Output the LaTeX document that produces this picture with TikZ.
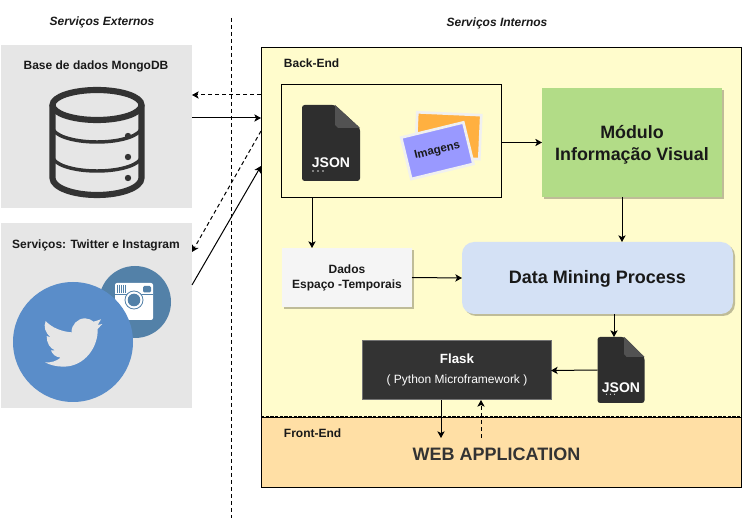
\documentclass[tikz,border=0pt]{standalone}
\usepackage{fontspec}
\setmainfont{Liberation Sans}
\usetikzlibrary{arrows.meta,shadows}
\definecolor{greybox}{HTML}{E6E6E6}
\definecolor{darkicon}{HTML}{333333}
\definecolor{birdblue}{HTML}{5A8DC9}
\definecolor{instablue}{HTML}{5381A8}
\newcommand{\jsonfile}[5]{%
	\node[minimum width=#4*.75pt,minimum height=#5*.75pt,inner sep=0,outer sep=0] (#1) at (#2,#3) {};
	\begin{scope}[shift={(#1.north west)},xscale=#4/58,yscale=#5/76]
		\fill[black!82,rounded corners=2pt] (33,0) -- (0,0) -- (0,76) -- (58,76) -- (58,23) -- cycle;
		\fill[black!68] (33,0) -- (58,23) -- (36,23) -- (33,20) -- cycle;
		\node[text=white,font=\fontsize{10.5}{12}\selectfont\bfseries] at (29,58) {JSON};
		\foreach \i in {11,16,21}
			\fill[white!85!black] (\i,66) circle (.8);
	\end{scope}
}
\begin{document}
\begin{tikzpicture}[x=.75pt,y=-.75pt,line width=.75pt,
	every node/.style={align=center,font=\fontsize{9}{11.25}\selectfont\bfseries,text=black!90},
	box/.style={inner sep=0,outer sep=0},
	shadowed/.style={box,drop shadow={shadow xshift=1.5pt,shadow yshift=-1.5pt,fill=black,opacity=.25}},
	title/.style={font=\fontsize{9}{11}\selectfont\bfseries\itshape},
	photo/.style={box,draw=black!6,line width=2pt,minimum width=48pt,minimum height=33pt},
	arr/.style={-{Stealth[length=5pt,width=5.5pt,inset=1.3pt]}},
	dasharr/.style={arr,dash pattern=on 3pt off 2.25pt}]
\useasboundingbox (0,0) rectangle (744,524);
\node[title] (externos) at (102,22) {Serviços Externos};
\node[title] (internos) at (497,23) {Serviços Internos};
\draw[dash pattern=on 3pt off 2.25pt] (231,18) -- (231,518);
% boxes on the left
\node[box,fill=greybox,minimum width=143.25pt,minimum height=122.25pt] (mongo) at (96.5,126.5) {};
\node[box,fill=greybox,minimum width=143.25pt,minimum height=138.75pt] (social) at (96.5,315.5) {};
\node (mongotxt) at (96,66) {Base de dados MongoDB};
\node (socialtxt) at (96,245) {Serviços: Twitter e Instagram};
% database icon
\begin{scope}[darkicon]
	\draw[line width=4.6pt] (97,105) ellipse[x radius=44.5,y radius=15];
	\draw[line width=4.6pt] (52.5,105) -- (52.5,178) arc[start angle=180,end angle=0,x radius=44.5,y radius=17] -- (141.5,105);
	\draw[line width=2.6pt] (52.5,127) arc[start angle=180,end angle=0,x radius=44.5,y radius=15];
	\draw[line width=2.6pt] (52.5,156) arc[start angle=180,end angle=0,x radius=44.5,y radius=15];
	\foreach \y in {136,157,178}
		\fill (128,\y) circle (3.2);
\end{scope}
% instagram and twitter
\fill[instablue] (135,302) circle (36);
\fill[white,rounded corners=1.5pt] (115,283) rectangle (153,320);
\foreach \x in {117,119,121,123,125}
	\draw[instablue,line width=.6pt] (\x,285) -- (\x,293);
\fill[instablue,rounded corners=1pt] (143,286) rectangle (151,292.5);
\draw[instablue,line width=.4pt] (115,294) -- (153,294);
\draw[instablue,fill=white,line width=.6pt] (134,300) circle (9);
\fill[instablue] (134,300) circle (6.3);
\fill[birdblue] (73,342) circle (60);
\begin{scope}[shift={(35,275)},x=.25pt,y=-.25pt]
	\fill[greybox] (32,138) .. controls (50,158) and (80,170) .. (110,172)
		.. controls (108,150) and (128,130) .. (150,130)
		.. controls (160,130) and (170,135) .. (176,140)
		-- (198,133) -- (188,150) -- (202,147) -- (188,162)
		.. controls (190,215) and (150,275) .. (85,275)
		.. controls (65,275) and (45,270) .. (30,262)
		.. controls (48,264) and (65,258) .. (77,248)
		.. controls (62,246) and (52,238) .. (48,226)
		-- (60,226)
		.. controls (45,220) and (35,205) .. (35,183)
		-- (47,187)
		.. controls (30,172) and (25,155) .. (32,138) -- cycle;
\end{scope}
% back-end and front-end
\node[box,draw,fill=yellow!20!white,minimum width=360pt,minimum height=277.5pt] (backend) at (501,233) {};
\node[box,draw,fill={rgb,255:red,255;green,223;blue,165},minimum width=360pt,minimum height=52.5pt] (frontend) at (501,453) {};
\draw[dash pattern=on 2.5pt off 1pt,line width=.9pt] (backend.south west) ++(0,-1) -- ++(480,0);
\node[anchor=west] (backtxt) at (279,63) {Back-End};
\node[anchor=west] (fronttxt) at (279,433) {Front-End};
\node[box,draw,minimum width=165pt,minimum height=84.75pt] (dados) at (391.5,141.5) {};
\jsonfile{jsona}{331}{143}{58}{76}
\node[photo,fill={rgb,255:red,255;green,176;blue,64},rotate=-2.6] (foto) at (448.3,135.7) {};
\node[photo,fill={rgb,255:red,153;green,153;blue,255},rotate=13.7,minimum height=32pt,font=\fontsize{8.6}{11}\selectfont\bfseries] (imagens) at (437.3,150.7) {Imagens};
\node[shadowed,fill={rgb,255:red,178;green,220;blue,135},minimum width=135pt,minimum height=81.75pt] (modulo) at (632,142.5) {};
\node[font=\fontsize{13.4}{16.5}\selectfont\bfseries] (modulotxt) at (632,144.5) {Módulo\\Informação Visual};
\node[shadowed,fill=black!4,minimum width=97.5pt,minimum height=44.25pt] (espaco) at (347,277.5) {Dados\\Espaço -Temporais};
\node[shadowed,rounded corners=9pt,fill={rgb,255:red,212;green,225;blue,245},minimum width=203.25pt,minimum height=54pt] (mining) at (597.5,278) {};
\node[font=\fontsize{13.5}{16}\selectfont\bfseries] (miningtxt) at (597.5,279) {Data Mining Process};
\node[box,draw=black!55,fill=darkicon,minimum width=141.75pt,minimum height=44.25pt] (flask) at (456.5,370.5) {};
\node[text=white,font=\fontsize{10}{12}\selectfont\bfseries] (flasktxt) at (457,359) {Flask};
\node[text=white,font=\fontsize{9}{11}\selectfont] (pythontxt) at (457,380) {( Python Microframework )};
\jsonfile{jsonb}{621}{370}{47}{66}
\node[box,text=darkicon,font=\fontsize{13.5}{16}\selectfont\bfseries,minimum height=24pt] (web) at (496.5,454) {WEB APPLICATION};
% connectors
\path (0,95) coordinate (ya) (0,118) coordinate (yb) (0,131) coordinate (yc) (0,252) coordinate (yd)
	(0,285) coordinate (ye) (0,166) coordinate (yf)
	(312,0) coordinate (xa) (622,0) coordinate (xb) (614,0) coordinate (xc) (441,0) coordinate (xd) (481,0) coordinate (xe);
\draw[dasharr] (backend.west |- ya) -- (mongo.east |- ya);
\draw[arr] (mongo.east |- yb) -- (backend.west |- yb);
\draw[dasharr] (backend.west |- yc) -- (social.east |- yd);
\draw[arr] (social.east |- ye) -- (backend.west |- yf);
\draw[arr] (dados.east |- modulo.west) -- (modulo.west);
\draw[arr] (modulo.south -| xb) -- (mining.north -| xb);
\draw[arr] (dados.south -| xa) -- (espaco.north -| xa);
\draw[arr] (espaco.east) -- (mining.west);
\draw[arr] (mining.south -| xc) -- (jsonb.north -| xc);
\draw[arr] (jsonb.west) -- (flask.east);
\draw[arr] (flask.south -| xd) -- (web.north -| xd);
\draw[dasharr] (web.north -| xe) -- (flask.south -| xe);
\end{tikzpicture}
\end{document}
